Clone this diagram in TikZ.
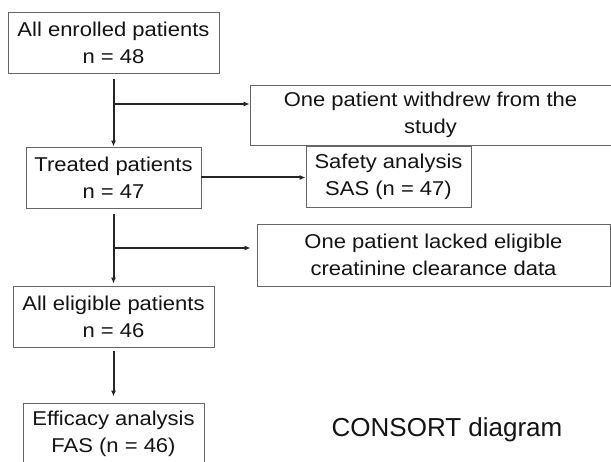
\documentclass[tikz,border=0pt]{standalone}
\usepackage{fontspec}
\setmainfont{Liberation Sans}
\newfontfamily\boxfont[FakeStretch=1.1]{Liberation Sans}
\usetikzlibrary{arrows.meta}
\tikzset{bx/.style={draw=black!60, line width=0.9pt, align=center, inner sep=0pt,
                    text=black!92, font=\boxfont\fontsize{20}{27}\selectfont},
         flow/.style={line width=2pt, draw=black!85, -{Latex[length=6pt,width=5pt]}}}

\begin{document}
\begin{tikzpicture}[x=1pt, y=-1pt]
  \useasboundingbox (0,0) rectangle (611,462);
  \fill[white] (0,0) rectangle (611,462);

  % ---------- main column ----------
  \node[bx, minimum width=211pt, minimum height=61pt] (enr) at (113.5,42.5) {All enrolled patients\\n = 48};
  \node[bx, minimum width=175pt, minimum height=61pt] (trt) at (113.5,177.5) {Treated patients\\n = 47};
  \node[bx, minimum width=201pt, minimum height=61pt] (elg) at (113.5,316.5) {All eligible patients\\n = 46};
  \node[bx, minimum width=181pt, minimum height=61pt] (eff) at (113.5,433.5) {Efficacy analysis\\FAS (n = 46)};

  % ---------- side boxes ----------
  \node[bx, minimum width=361pt, minimum height=60pt] (wdr) at (430.5,115) {One patient withdrew from the\\study};
  \node[bx, minimum width=165pt, minimum height=61pt] (sas) at (388.5,176.5) {Safety analysis\\SAS (n = 47)};
  \node[bx, minimum width=353pt, minimum height=62pt] (cln) at (433.5,255) {One patient lacked eligible\\creatinine clearance data};

  \node[text=black!92, inner sep=0pt, font=\fontsize{26}{30}\selectfont] (cap) at (447,429.5) {CONSORT diagram};

  % ---------- connectors ----------
  \coordinate (j1) at (113.5,104);
  \coordinate (j2) at (113.5,248);
  \draw[flow] ([yshift=-6pt]enr.south) -- (trt.north);
  \draw[flow] (j1) -- (j1 -| wdr.west);
  \draw[flow] (trt.east) -- (trt.east -| sas.west);
  \draw[flow] ([yshift=-6pt]trt.south) -- ([yshift=2pt]elg.north);
  \draw[flow] (j2) -- ([xshift=-6pt]j2 -| cln.west);
  \draw[flow, shorten >=6pt] ([yshift=-4pt]elg.south) -- (eff.north);

\end{tikzpicture}
\end{document}
